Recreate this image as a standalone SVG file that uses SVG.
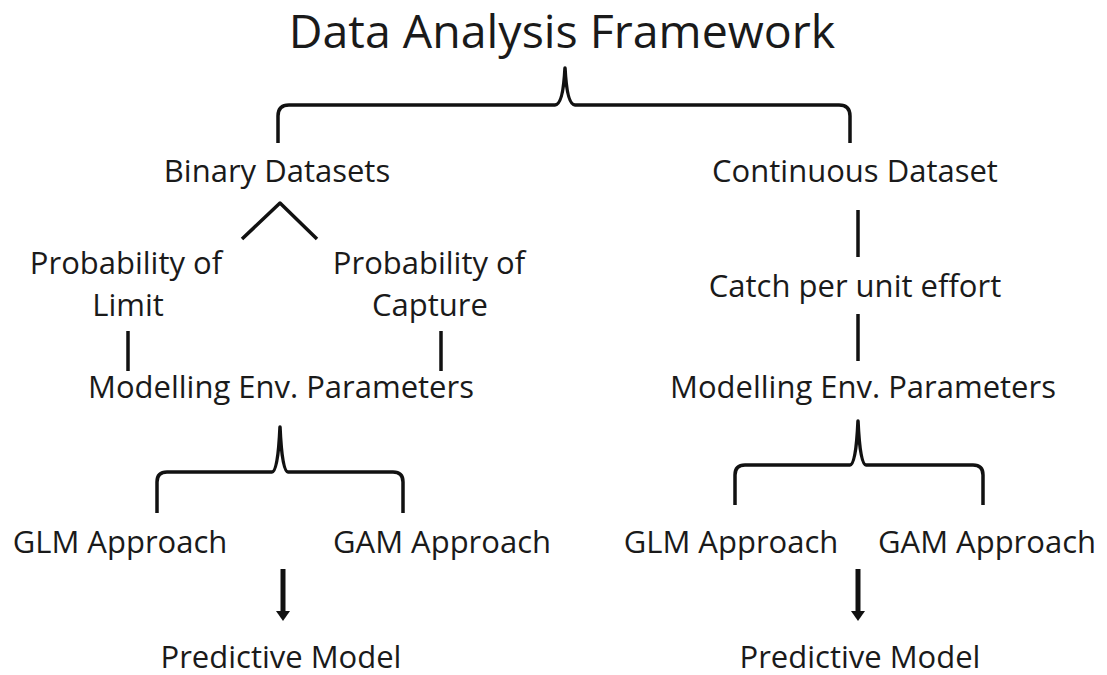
<svg xmlns="http://www.w3.org/2000/svg" width="1107" height="675" viewBox="0 0 1107 675">
<defs>
<style>
.t{font-family:"Open Sans","Liberation Sans",sans-serif;font-size:31px;fill:#1a1a1a;text-anchor:middle}
.title{font-size:46.5px}
.ln{fill:none;stroke:#111;stroke-width:3.5;stroke-linecap:butt;stroke-linejoin:round}
.ar{stroke:#111;stroke-width:5;fill:none}
.hd{fill:#111}
</style>
</defs>
<rect width="1107" height="675" fill="#ffffff"/>
<g id="title"><text class="t title" x="562" y="48">Data Analysis Framework</text></g>
<g id="binary"><text class="t" x="277" y="182">Binary Datasets</text></g>
<g id="continuous"><text class="t" x="855" y="182">Continuous Dataset</text></g>
<g id="prob-limit"><text class="t" x="126" y="274">Probability of<tspan x="128" y="316">Limit</tspan></text></g>
<g id="prob-capture"><text class="t" x="429" y="274">Probability of<tspan x="430" y="316">Capture</tspan></text></g>
<g id="cpue"><text class="t" x="855" y="297">Catch per unit effort</text></g>
<g id="model-left"><text class="t" x="281" y="398">Modelling Env. Parameters</text></g>
<g id="model-right"><text class="t" x="863" y="398">Modelling Env. Parameters</text></g>
<g id="glm-left"><text class="t" x="120" y="553">GLM Approach</text></g>
<g id="gam-left"><text class="t" x="442" y="553">GAM Approach</text></g>
<g id="glm-right"><text class="t" x="731" y="553">GLM Approach</text></g>
<g id="gam-right"><text class="t" x="987" y="553">GAM Approach</text></g>
<g id="pred-left"><text class="t" x="281" y="668">Predictive Model</text></g>
<g id="pred-right"><text class="t" x="860" y="668">Predictive Model</text></g>
<g id="connectors">
<path class="ln" d="M278,143 L278,116 Q278,105 289,105 L555,105 Q563,105 565,68 Q567,105 575,105 L839,105 Q850,105 850,116 L850,143"/>
<path class="ln" d="M242,239 L280,203 L317,239"/>
<path class="ln" d="M128,331 L128,371"/>
<path class="ln" d="M441,331 L441,371"/>
<path class="ln" d="M858,210 L858,257"/>
<path class="ln" d="M858,314 L858,361"/>
<path class="ln" d="M157,513 L157,482 Q157,472 167,472 L272,472 Q278,472 280,427 Q282,472 288,472 L393,472 Q403,472 403,482 L403,513"/>
<path class="ln" d="M735,505 L735,475 Q735,465 745,465 L850,465 Q856,465 858,421 Q860,465 866,465 L973,465 Q983,465 983,475 L983,505"/>
<path class="ar" d="M283,569 L283,613"/>
<polygon class="hd" points="276,611 290,611 283,621"/>
<path class="ar" d="M858,569 L858,613"/>
<polygon class="hd" points="851,611 865,611 858,621"/>
</g>
</svg>
